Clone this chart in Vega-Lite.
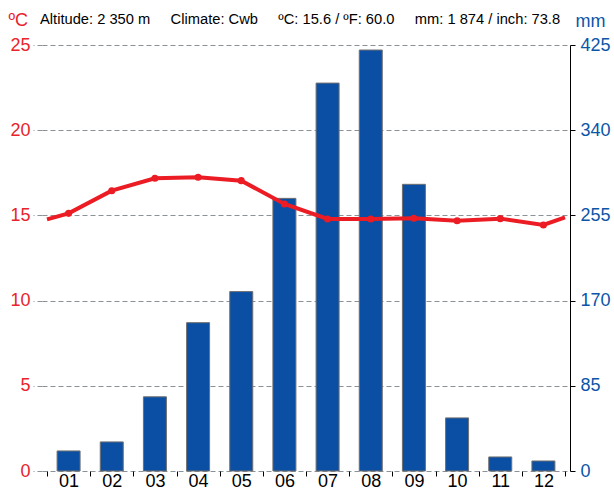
{
  "$schema": "https://vega.github.io/schema/vega-lite/v6.json",
  "width": 528,
  "height": 426,
  "autosize": {"type": "none"},
  "padding": {"left": 42, "top": 45, "right": 44, "bottom": 18},
  "background": "white",
  "config": {
    "view": {"stroke": null},
    "font": "Liberation Sans",
    "axis": {"labelFont": "Liberation Sans", "titleFont": "Liberation Sans"}
  },
  "title": {
    "text": "Altitude: 2\u00a0350 m\u00a0\u00a0\u00a0\u00a0\u00a0Climate: Cwb\u00a0\u00a0\u00a0\u00a0\u00a0ºC: 15.6 / ºF: 60.0\u00a0\u00a0\u00a0\u00a0\u00a0mm: 1\u00a0874 / inch: 73.8",
    "anchor": "start",
    "frame": "group",
    "offset": 0,
    "baseline": "alphabetic",
    "dy": 28,
    "dx": -2,
    "fontSize": 14.7,
    "fontWeight": "normal",
    "color": "#000000",
    "font": "Liberation Sans"
  },
  "datasets": {
    "precip": [
      {"month": 1, "mm": 20},
      {"month": 2, "mm": 29},
      {"month": 3, "mm": 74},
      {"month": 4, "mm": 148},
      {"month": 5, "mm": 179},
      {"month": 6, "mm": 272},
      {"month": 7, "mm": 387},
      {"month": 8, "mm": 420},
      {"month": 9, "mm": 286},
      {"month": 10, "mm": 53},
      {"month": 11, "mm": 14},
      {"month": 12, "mm": 10}
    ],
    "temp": [
      {"month": 0.5, "t": 14.77},
      {"month": 1, "t": 15.12},
      {"month": 2, "t": 16.45},
      {"month": 3, "t": 17.18},
      {"month": 4, "t": 17.24},
      {"month": 5, "t": 17.04},
      {"month": 6, "t": 15.67},
      {"month": 7, "t": 14.79},
      {"month": 8, "t": 14.79},
      {"month": 9, "t": 14.83},
      {"month": 10, "t": 14.69},
      {"month": 11, "t": 14.81},
      {"month": 12, "t": 14.44},
      {"month": 12.5, "t": 14.89}
    ]
  },
  "layer": [
    {
      "data": {"name": "precip"},
      "mark": {"type": "bar", "width": 23, "color": "#0a4fa3", "stroke": "#707070", "strokeWidth": 1},
      "encoding": {
        "x": {
          "field": "month", "type": "quantitative",
          "scale": {"domain": [0.5, 12.5], "nice": false, "zero": false},
          "axis": {
            "orient": "bottom",
            "values": [0.5, 1.5, 2.5, 3.5, 4.5, 5.5, 6.5, 7.5, 8.5, 9.5, 10.5, 11.5, 12.5],
            "labels": false, "domain": false, "grid": false,
            "ticks": true, "tickSize": 5, "tickColor": "#000000", "tickWidth": 1,
            "title": null
          }
        },
        "y": {
          "field": "mm", "type": "quantitative",
          "scale": {"domain": [0, 425], "nice": false},
          "axis": {
            "orient": "right",
            "values": [0, 85, 170, 255, 340, 425],
            "grid": false,
            "domain": true, "domainColor": "#000000", "domainWidth": 1,
            "ticks": true, "tickColor": "#000000", "tickSize": 5,
            "labelColor": "#0a55a8", "labelFontSize": 18, "labelPadding": 5,
            "title": "mm", "titleAngle": 0, "titleColor": "#0a55a8", "titleFontSize": 18,
            "titleFontWeight": "normal", "titleAlign": "left", "titleBaseline": "alphabetic",
            "titleX": 5, "titleY": -19
          }
        }
      }
    },
    {
      "data": {"name": "temp"},
      "mark": {"type": "line", "color": "#ec1c24", "strokeWidth": 4},
      "encoding": {
        "x": {
          "field": "month", "type": "quantitative",
          "scale": {"domain": [0.5, 12.5], "nice": false, "zero": false},
          "axis": {
            "orient": "bottom",
            "values": [1, 2, 3, 4, 5, 6, 7, 8, 9, 10, 11, 12],
            "labelExpr": "datum.value < 10 ? '0' + datum.value : '' + datum.value",
            "ticks": false, "domain": false, "grid": false,
            "labelColor": "#000000", "labelFontSize": 18, "labelPadding": 1,
            "title": null
          }
        },
        "y": {
          "field": "t", "type": "quantitative",
          "scale": {"domain": [0, 25], "nice": false},
          "axis": {
            "orient": "left",
            "values": [0, 5, 10, 15, 20, 25],
            "grid": true, "gridColor": "#8a9297", "gridDash": [5, 3], "gridWidth": 1,
            "domain": false,
            "ticks": true, "tickColor": "#8a9297", "tickSize": 9, "tickDash": [5, 3],
            "labelColor": "#e8232b", "labelFontSize": 18, "labelPadding": 3,
            "title": "ºC", "titleAngle": 0, "titleColor": "#e8232b", "titleFontSize": 18,
            "titleFontWeight": "normal", "titleAlign": "left", "titleBaseline": "alphabetic",
            "titleX": -34, "titleY": -20
          }
        }
      }
    },
    {
      "data": {"name": "temp"},
      "transform": [{"filter": "datum.month >= 1 && datum.month <= 12"}],
      "mark": {"type": "point", "filled": true, "size": 50, "color": "#ec1c24", "opacity": 1},
      "encoding": {
        "x": {"field": "month", "type": "quantitative", "scale": {"domain": [0.5, 12.5], "nice": false, "zero": false}, "axis": null},
        "y": {"field": "t", "type": "quantitative", "scale": {"domain": [0, 25], "nice": false}, "axis": null}
      }
    }
  ],
  "resolve": {"scale": {"y": "independent"}, "axis": {"x": "independent"}}
}
